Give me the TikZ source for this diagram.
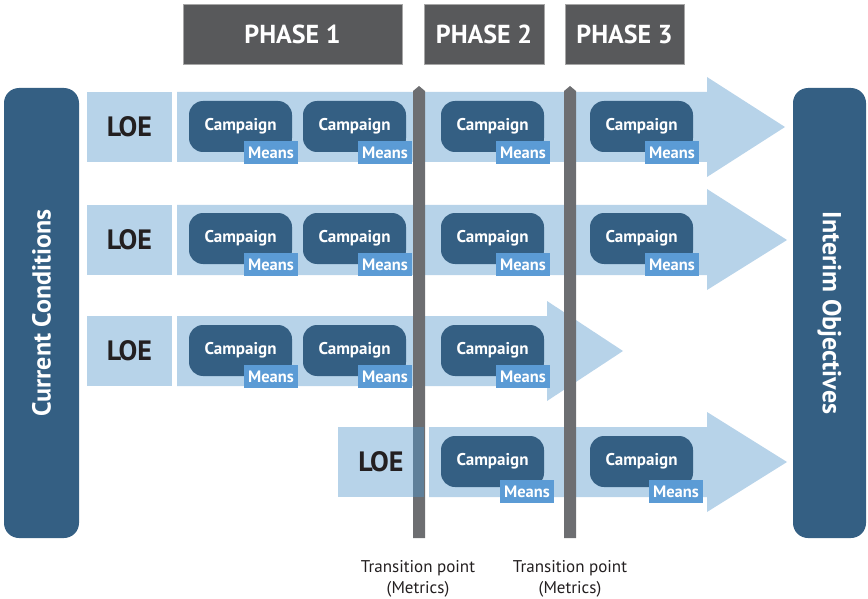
\documentclass[tikz,border=0pt]{standalone}
\usepackage{fontspec}
\setmainfont{PT Sans}
\definecolor{dkblue}{HTML}{345F83}
\definecolor{ltblue}{HTML}{B7D3E9}
\definecolor{meansblue}{HTML}{5B9BD5}
\definecolor{phasegrey}{HTML}{58595B}
\definecolor{bargrey}{HTML}{6D6E71}
\definecolor{blendcol}{HTML}{5F7F99}
\definecolor{txt}{HTML}{231F20}
\newcommand{\fs}[1]{\fontsize{#1}{#1}\selectfont}
\tikzset{
  sidebox/.style={fill=dkblue, rounded corners=15pt, text=white, inner sep=0pt},
  sidetext/.style={text=white, font=\bfseries\fs{26}, inner sep=0pt},
  phasebox/.style={fill=phasegrey, draw=gray!70, line width=0.6pt, text=white, font=\bfseries\fs{26}, minimum height=60pt, inner sep=0pt},
  loebox/.style={fill=ltblue, text=txt, font=\bfseries\fs{28}, minimum height=70pt, inner sep=0pt},
  campbox/.style={fill=dkblue, rounded corners=14pt, text=white, font=\bfseries\fs{17}, minimum width=103pt, minimum height=51pt, inner sep=0pt},
  meansbox/.style={fill=meansblue, text=white, font=\bfseries\fs{16.5}, minimum width=54pt, minimum height=23pt, inner sep=0pt},
  arrowshape/.style={fill=ltblue},
  barshape/.style={fill=bargrey},
  tlabel/.style={align=center, text=txt, font=\fs{17}, inner sep=0pt}
}
\begin{document}
\begin{tikzpicture}[x=1pt, y=-1pt]
\useasboundingbox (0,0) rectangle (868,599);
% side boxes
\node[sidebox, minimum width=75pt, minimum height=450pt] (cc) at (41.5,313) {};
\node[sidetext, rotate=90] (cctext) at (cc.center) {Current Conditions};
\node[sidebox, minimum width=73pt, minimum height=450pt] (io) at (829.5,313) {};
\node[sidetext, rotate=-90] (iotext) at (io.center) {Interim Objectives};
% phases
\node[phasebox, minimum width=219pt] (p1) at (292.5,34) {PHASE 1};
\node[phasebox, minimum width=120pt] (p2) at (484,34) {PHASE 2};
\node[phasebox, minimum width=119pt] (p3) at (624.5,34) {PHASE 3};
% arrows
\fill[arrowshape] (177,92) -- (707,92) -- (707,77) -- (785,127) -- (707,177) -- (707,162) -- (177,162) -- cycle;
\fill[arrowshape] (177,205) -- (707,205) -- (707,189) -- (787,240) -- (707,290) -- (707,275) -- (177,275) -- cycle;
\fill[arrowshape] (177,316) -- (547,316) -- (547,301) -- (623,351) -- (547,401) -- (547,386) -- (177,386) -- cycle;
\fill[arrowshape] (429,427) -- (707,427) -- (707,412) -- (787,462) -- (707,512) -- (707,497) -- (429,497) -- cycle;
% LOE boxes
\node[loebox, minimum width=85pt] (l1) at (129.5,127) {LOE};
\node[loebox, minimum width=85pt] (l2) at (129.5,240) {LOE};
\node[loebox, minimum width=85pt] (l3) at (129.5,351) {LOE};
\node[loebox, minimum width=86pt] (l4) at (381,462) {};
% campaigns row 1
\node[campbox] (c11) at (240.5,126.5) {Campaign};
\node[campbox] (c12) at (354.5,126.5) {Campaign};
\node[campbox] (c13) at (492.5,126.5) {Campaign};
\node[campbox] (c14) at (641.5,126.5) {Campaign};
\node[meansbox] (m11) at (271,152.5) {Means};
\node[meansbox] (m12) at (385,152.5) {Means};
\node[meansbox] (m13) at (523,152.5) {Means};
\node[meansbox] (m14) at (672,152.5) {Means};
% row 2
\node[campbox] (c21) at (240.5,238.5) {Campaign};
\node[campbox] (c22) at (354.5,238.5) {Campaign};
\node[campbox] (c23) at (492.5,238.5) {Campaign};
\node[campbox] (c24) at (641.5,238.5) {Campaign};
\node[meansbox] (m21) at (271,264.5) {Means};
\node[meansbox] (m22) at (385,264.5) {Means};
\node[meansbox] (m23) at (523,264.5) {Means};
\node[meansbox] (m24) at (672,264.5) {Means};
% row 3
\node[campbox] (c31) at (240.5,350.5) {Campaign};
\node[campbox] (c32) at (354.5,350.5) {Campaign};
\node[campbox] (c33) at (492.5,350.5) {Campaign};
\node[meansbox] (m31) at (271,376.5) {Means};
\node[meansbox] (m32) at (385,376.5) {Means};
\node[meansbox] (m33) at (523,376.5) {Means};
% row 4
\node[campbox] (c43) at (492.5,461.5) {Campaign};
\node[campbox] (c44) at (641.5,461.5) {Campaign};
\node[meansbox] (m43) at (527,491.5) {Means};
\node[meansbox] (m44) at (676,491.5) {Means};
% transition bars
\fill[barshape] (413,538) -- (413,91) -- (419,86) -- (425,91) -- (425,538) -- cycle;
\fill[barshape] (564,538) -- (564,91) -- (570,86) -- (576,91) -- (576,538) -- cycle;
\fill[blendcol] (413,427) rectangle (424,497);
\node[text=txt, font=\bfseries\fs{28}] (l4text) at (l4.center) {LOE};
% labels
\node[tlabel] (t1) at (418,579) {Transition point\\[4pt](Metrics)};
\node[tlabel] (t2) at (570,579) {Transition point\\[4pt](Metrics)};
\end{tikzpicture}
\end{document}
